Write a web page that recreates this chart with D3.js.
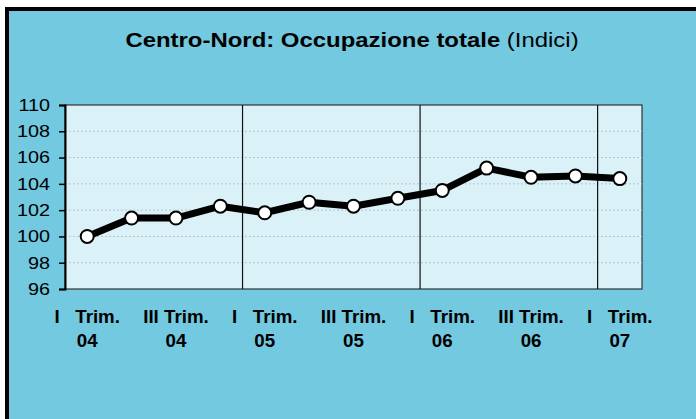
<!DOCTYPE html>
<html>
<head>
<meta charset="utf-8">
<script src="https://cdn.jsdelivr.net/npm/d3@7"></script>
<style>
  body { margin: 0; background: #fff; }
  svg { display: block; font-family: "Liberation Sans", Arial, sans-serif; }
</style>
</head>
<body>
<svg class="chart" width="696" height="419"></svg>
<script>
var quarters = ["I", "II", "III", "IV", "I", "II", "III", "IV", "I", "II", "III", "IV", "I"];
var years = ["04", "04", "04", "04", "05", "05", "05", "05", "06", "06", "06", "06", "07"];
var values = [100.0, 101.4, 101.4, 102.3, 101.8, 102.6, 102.3, 102.9, 103.5, 105.2, 104.5, 104.6, 104.4];
var yTicks = [96, 98, 100, 102, 104, 106, 108, 110];

var categories = quarters.map(function(q, i) { return q + " Trim. " + years[i]; });

var plot = {left: 65, top: 105, right: 642, bottom: 289};

var svg = d3.select(".chart");

// outer frame
svg.append("rect")
    .attr("x", 7)
    .attr("y", 9)
    .attr("width", 720)
    .attr("height", 440)
    .attr("fill", "#73c9df")
    .attr("stroke", "#000")
    .attr("stroke-width", 4);

// text in the original is a bit wider than Arial, so stretch it slightly
svg.append("text")
    .attr("transform", "translate(352,47) scale(1.14,1)")
    .attr("text-anchor", "middle")
    .style("font-size", "21px")
    .call(function(t) {
      t.append("tspan").style("font-weight", "bold").text("Centro-Nord: Occupazione totale");
      t.append("tspan").text(" (Indici)");
    });

var x = d3.scaleBand()
    .domain(categories)
    .range([plot.left, plot.right]);

var y = d3.scaleLinear()
    .domain([96, 110])
    .range([plot.bottom, plot.top]);

svg.append("rect")
    .attr("x", plot.left)
    .attr("y", plot.top)
    .attr("width", plot.right - plot.left)
    .attr("height", plot.bottom - plot.top)
    .attr("fill", "#dbf1f8")
    .attr("stroke", "#333")
    .attr("stroke-width", 1.2);

// dotted grid
svg.append("g")
  .selectAll("line")
    .data(yTicks.slice(1, -1))
    .enter().append("line")
    .attr("x1", plot.left)
    .attr("x2", plot.right)
    .attr("y1", function(d) { return y(d); })
    .attr("y2", function(d) { return y(d); })
    .attr("stroke", "#b5c4cc")
    .attr("stroke-width", 1)
    .attr("stroke-dasharray", "2,2");

// year separators
svg.append("g")
  .selectAll("line")
    .data(categories.filter(function(d, i) { return i > 0 && quarters[i] == "I"; }))
    .enter().append("line")
    .attr("x1", function(d) { return x(d); })
    .attr("x2", function(d) { return x(d); })
    .attr("y1", plot.top)
    .attr("y2", plot.bottom)
    .attr("stroke", "#111")
    .attr("stroke-width", 1.2);

var yAxis = d3.axisLeft(y)
    .tickValues(yTicks)
    .tickSize(6);

svg.append("g")
    .attr("class", "y axis")
    .attr("transform", "translate(" + plot.left + ",0)")
    .call(yAxis)
    .call(function(g) {
      g.select(".domain").attr("stroke", "#000").attr("stroke-width", 2);
      g.selectAll(".tick line").attr("stroke", "#000").attr("stroke-width", 1.5);
      g.selectAll("text")
        .attr("fill", "#000")
        .attr("x", -12.5)
        .attr("transform", "scale(1.2,1)")
        .style("font-size", "16.5px")
        .style("font-family", "'Liberation Sans', Arial, sans-serif");
    });

// x labels, every other quarter
var xLabels = svg.append("g")
  .selectAll(".xlab")
    .data(categories.filter(function(d, i) { return i % 2 == 0; }))
    .enter().append("text")
    .attr("class", "xlab")
    .attr("text-anchor", "middle")
    .attr("transform", function(d) {
      return "translate(" + (x(d) + x.bandwidth() / 2) + ",0) scale(1.07,1)";
    })
    .style("font-size", "17.5px")
    .style("font-weight", "bold")
    .style("white-space", "pre")
    .attr("xml:space", "preserve");

xLabels.append("tspan")
    .attr("x", 0)
    .attr("y", 323)
    .text(function(d) {
      var q = d.split(" ")[0];
      return q == "I" ? "I   Trim." : q + " Trim.";
    });

xLabels.append("tspan")
    .attr("x", 0)
    .attr("y", 347)
    .text(function(d) { return d.split(" ")[2]; });

var line = d3.line()
    .x(function(d, i) { return x(categories[i]) + x.bandwidth() / 2; })
    .y(function(d) { return y(d); });

svg.append("path")
    .datum(values)
    .attr("d", line)
    .attr("fill", "none")
    .attr("stroke", "#000")
    .attr("stroke-width", 7)
    .attr("stroke-linejoin", "round");

svg.append("g")
  .selectAll("circle")
    .data(values)
    .enter().append("circle")
    .attr("cx", function(d, i) { return x(categories[i]) + x.bandwidth() / 2; })
    .attr("cy", function(d) { return y(d); })
    .attr("r", 6.5)
    .attr("fill", "#fff")
    .attr("stroke", "#000")
    .attr("stroke-width", 2);
</script>
</body>
</html>
